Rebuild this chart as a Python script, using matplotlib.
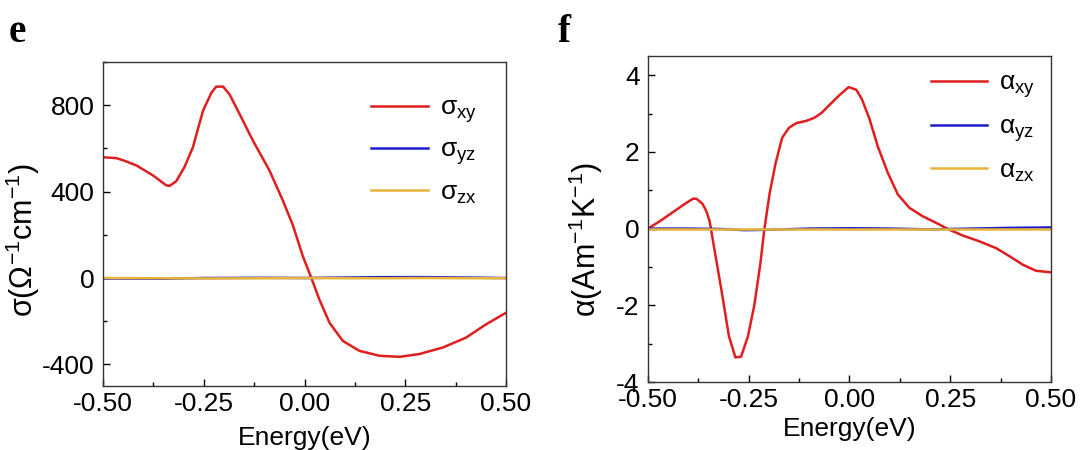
import numpy as np
import matplotlib
matplotlib.use('Agg')
import matplotlib.pyplot as plt
from matplotlib.ticker import MultipleLocator, FormatStrFormatter

plt.rcParams['font.family'] = ['Liberation Sans', 'DejaVu Sans']
plt.rcParams['mathtext.default'] = 'regular'
plt.rcParams['axes.unicode_minus'] = False

# panel e : anomalous Hall conductivity
E_sig = [-0.5, -0.467, -0.45, -0.417, -0.376, -0.343, -0.335, -0.318, -0.298, -0.277, -0.252,
         -0.231, -0.219, -0.202, -0.186, -0.161, -0.128, -0.087, -0.054, -0.029, -0.004,
         0.017, 0.037, 0.062, 0.095, 0.136, 0.186, 0.236, 0.285, 0.343, 0.401, 0.450, 0.5]
sig_xy = [559, 555, 545, 521, 475, 429, 426, 449, 513, 605, 774,
          858, 886, 886, 850, 759, 636, 498, 360, 245, 100,
          0, -100, -207, -291, -337, -360, -365, -352, -322, -276, -215, -161]
E_flat = [-0.5, -0.35, -0.25, -0.1, 0.0, 0.1, 0.2, 0.3, 0.4, 0.5]
sig_yz = [-2, -3, 0, 1, 0, 2, 4, 4, 2, 0]
sig_zx = [0, -1, -2, -1, 0, -1, -1, 0, -1, -1]

# panel f : anomalous Nernst conductivity
E_alp = [-0.5, -0.471, -0.438, -0.405, -0.388, -0.380, -0.365, -0.355, -0.347, -0.335,
         -0.318, -0.299, -0.283, -0.269, -0.252, -0.236, -0.221, -0.211, -0.198, -0.183,
         -0.167, -0.150, -0.132, -0.107, -0.087, -0.070, -0.050, -0.025, -0.002, 0.017,
         0.031, 0.050, 0.070, 0.095, 0.120, 0.149, 0.182, 0.215, 0.248, 0.281,
         0.322, 0.364, 0.397, 0.430, 0.463, 0.5]
alp_xy = [0.0, 0.19, 0.43, 0.67, 0.78, 0.78, 0.65, 0.45, 0.19, -0.55,
          -1.59, -2.81, -3.36, -3.34, -2.81, -1.99, -0.90, 0.0, 0.93, 1.72,
          2.37, 2.63, 2.75, 2.81, 2.89, 3.01, 3.22, 3.48, 3.69, 3.62,
          3.37, 2.85, 2.15, 1.46, 0.89, 0.54, 0.32, 0.15, -0.03, -0.18,
          -0.33, -0.51, -0.72, -0.94, -1.10, -1.14]
E_flat2 = [-0.5, -0.4, -0.32, -0.26, -0.2, -0.1, 0.0, 0.1, 0.2, 0.3, 0.4, 0.5]
alp_yz = [0.0, 0.0, -0.01, -0.04, -0.03, 0.0, 0.01, 0.0, -0.02, 0.0, 0.02, 0.03]
alp_zx = [0.0, 0.0, 0.0, 0.0, 0.0, 0.0, 0.0, 0.0, 0.0, 0.0, 0.0, 0.0]

red = '#e01e1e'
blue = '#1c1ccc'
yellow = '#e8b43a'

fig = plt.figure(figsize=(10.8, 4.5), dpi=100)
ax1 = fig.add_axes([0.0954, 0.1422, 0.3731, 0.72])
ax2 = fig.add_axes([0.6, 0.1511, 0.3731, 0.7244])

ax1.plot(E_sig, sig_xy, color=red, lw=1.8, label='σ$_{xy}$')
ax1.plot(E_flat, sig_yz, color=blue, lw=1.8, label='σ$_{yz}$')
ax1.plot(E_flat, sig_zx, color=yellow, lw=1.8, label='σ$_{zx}$')
ax1.set_ylim(-500, 1000)
ax1.yaxis.set_major_locator(MultipleLocator(400))
ax1.yaxis.set_minor_locator(MultipleLocator(200))
ax1.set_ylabel('σ(Ω$^{-1}$cm$^{-1}$)', fontsize=22)
ax1.yaxis.set_label_coords(-0.152, 0.45)
ax1.set_xlabel('Energy(eV)', fontsize=19, labelpad=7.5)

ax2.plot(E_alp, alp_xy, color=red, lw=1.8, label='α$_{xy}$')
ax2.plot(E_flat2, alp_yz, color=blue, lw=1.8, label='α$_{yz}$')
ax2.plot(E_flat2, alp_zx, color=yellow, lw=1.8, label='α$_{zx}$')
ax2.set_ylim(-4, 4.5)
ax2.yaxis.set_major_locator(MultipleLocator(2))
ax2.yaxis.set_minor_locator(MultipleLocator(1))
ax2.set_ylabel('α(Am$^{-1}$K$^{-1}$)', fontsize=22)
ax2.yaxis.set_label_coords(-0.107, 0.436)
ax2.set_xlabel('Energy(eV)', fontsize=19, labelpad=4)

for ax, lx, ly, ls in ((ax1, 0.666, 0.726, 0.5), (ax2, 0.7015, 0.781, 0.55)):
    ax.set_xlim(-0.5, 0.5)
    ax.xaxis.set_major_locator(MultipleLocator(0.25))
    ax.xaxis.set_minor_locator(MultipleLocator(0.125))
    ax.xaxis.set_major_formatter(FormatStrFormatter('%.2f'))
    ax.tick_params(which='both', direction='in', labelsize=19)
    ax.tick_params(axis='x', pad=4)
    ax.tick_params(axis='y', pad=6)
    ax.tick_params(which='major', length=5, width=1)
    ax.tick_params(which='minor', length=3, width=1)
    for s in ax.spines.values():
        s.set_color('#333333')
        s.set_linewidth(1)
    ax.legend(loc='center left', bbox_to_anchor=(lx, ly), frameon=False, fontsize=19,
              handlelength=2.14, labelspacing=ls, handletextpad=0.45,
              borderpad=0, borderaxespad=0)

fig.text(0.008, 0.907, 'e', fontsize=28, fontweight='bold', family='Liberation Serif')
fig.text(0.516, 0.907, 'f', fontsize=28, fontweight='bold', family='Liberation Serif')

fig.savefig('out.png', dpi=100)
